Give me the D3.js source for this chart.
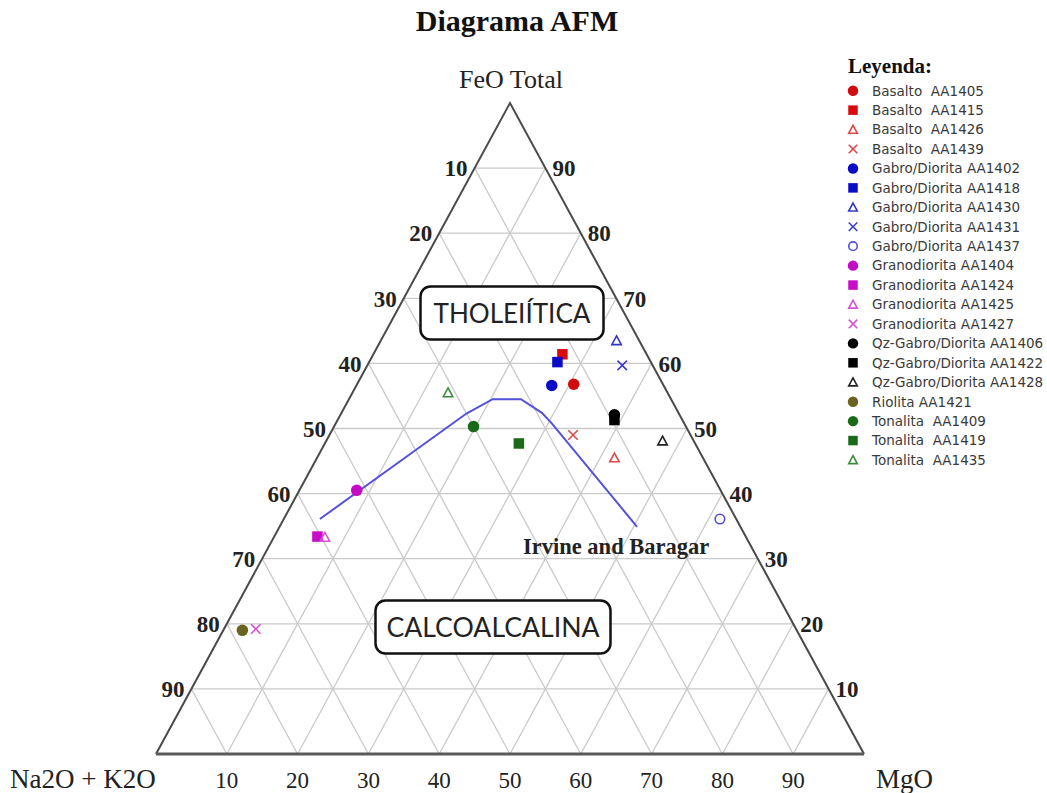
<!DOCTYPE html>
<html>
<head>
<meta charset="utf-8">
<script src="https://cdn.jsdelivr.net/npm/d3@7"></script>
<style>
  html, body { margin: 0; padding: 0; background: #fff; }
  svg { display: block; }
  text { white-space: pre; }
</style>
</head>
<body>
<svg id="chart" width="1047" height="793"></svg>
<script>
// AFM diagram: A = Na2O + K2O, F = FeO total, M = MgO (wt % normalised to 100)
const rockTypes = [
  "Basalto", "Basalto", "Basalto", "Basalto",
  "Gabro/Diorita", "Gabro/Diorita", "Gabro/Diorita", "Gabro/Diorita", "Gabro/Diorita",
  "Granodiorita", "Granodiorita", "Granodiorita", "Granodiorita",
  "Qz-Gabro/Diorita", "Qz-Gabro/Diorita", "Qz-Gabro/Diorita",
  "Riolita",
  "Tonalita", "Tonalita", "Tonalita"
];
const sampleIds = [
  "AA1405", "AA1415", "AA1426", "AA1439",
  "AA1402", "AA1418", "AA1430", "AA1431", "AA1437",
  "AA1404", "AA1424", "AA1425", "AA1427",
  "AA1406", "AA1422", "AA1428",
  "AA1421",
  "AA1409", "AA1419", "AA1435"
];
const labelGaps = [
  "  ", "  ", "  ", "  ",
  " ", " ", " ", " ", " ",
  " ", " ", " ", " ",
  " ", " ", " ",
  " ",
  "  ", "  ", "  "
];
const alkalis  = [12.6, 11.9, 12.5, 16.6, 15.8, 13.2, 3.2, 4.3, 2.3, 51.4, 60.5, 59.5, 76.3, 9.2, 9.6, 4.4, 78.3, 30.0, 24.9, 31.0];
const feoTotal = [56.8, 61.4, 45.5, 49.0, 56.6, 60.2, 63.5, 59.7, 36.1, 40.5, 33.4, 33.3, 19.2, 52.1, 51.3, 48.1, 19.0, 50.3, 47.7, 55.5];
const mgo      = [30.6, 26.7, 42.0, 34.4, 27.6, 26.6, 33.3, 36.0, 61.6, 8.1, 6.1, 7.2, 4.5, 38.7, 39.1, 47.5, 2.7, 19.7, 27.4, 13.5];
const shapes = [
  "circle", "square", "triangle", "cross",
  "circle", "square", "triangle", "cross", "ring",
  "circle", "square", "triangle", "cross",
  "circle", "square", "triangle",
  "circle",
  "circle", "square", "triangle"
];
const colors = [
  "#d00c0c", "#d80c0c", "#e04848", "#e04848",
  "#0c0cc8", "#0c0cc8", "#3434c8", "#3c3cd0", "#5050dc",
  "#c40cc4", "#c80cc8", "#d850d8", "#d850d8",
  "#000000", "#000000", "#222222",
  "#6a6420",
  "#1a6a1a", "#1a6a1a", "#3a8c3a"
];

// Irvine & Baragar (1971) tholeiitic / calc-alkaline boundary
const boundaryA = [58.8, 30.0, 25.2, 21.2, 19.3, 18.7, 14.6];
const boundaryF = [36.1, 52.3, 54.5, 54.5, 52.4, 50.8, 34.9];
const boundaryM = [5.1, 17.7, 20.3, 24.3, 28.3, 30.5, 50.5];

const tickValues = [10, 20, 30, 40, 50, 60, 70, 80, 90];

const svg = d3.select("#chart");
const serif = "'Liberation Serif', 'Times New Roman', serif";

// Scales: horizontal position runs with (M + F/2), vertical with F
const xScale = d3.scaleLinear().domain([0, 100]).range([156, 864]);
const yScale = d3.scaleLinear().domain([0, 100]).range([754, 103]);

function project(a, f, m) {
  const s = a + f + m;
  const F = f / s * 100, M = m / s * 100;
  return [xScale(M + F / 2), yScale(F)];
}

// Grid
const grid = svg.append("g").attr("stroke", "#cacaca").attr("stroke-width", 1.3).attr("fill", "none");
tickValues.forEach(v => {
  // constant F
  let p1 = project(100 - v, v, 0), p2 = project(0, v, 100 - v);
  grid.append("line").attr("x1", p1[0]).attr("y1", p1[1]).attr("x2", p2[0]).attr("y2", p2[1]);
  // constant M
  p1 = project(100 - v, 0, v); p2 = project(0, 100 - v, v);
  grid.append("line").attr("x1", p1[0]).attr("y1", p1[1]).attr("x2", p2[0]).attr("y2", p2[1]);
  // constant A
  p1 = project(v, 0, 100 - v); p2 = project(v, 100 - v, 0);
  grid.append("line").attr("x1", p1[0]).attr("y1", p1[1]).attr("x2", p2[0]).attr("y2", p2[1]);
});

// Triangle frame
const vA = project(100, 0, 0), vF = project(0, 100, 0), vM = project(0, 0, 100);
svg.append("path")
  .attr("d", `M${vA[0]},${vA[1]}L${vF[0]},${vF[1]}L${vM[0]},${vM[1]}`)
  .attr("fill", "none").attr("stroke", "#4a4a4a").attr("stroke-width", 2);
svg.append("line")
  .attr("x1", vA[0]).attr("y1", vA[1]).attr("x2", vM[0]).attr("y2", vM[1])
  .attr("stroke", "#5a5a5a").attr("stroke-width", 3);

// Tick labels
const ticks = svg.append("g").attr("font-family", serif).attr("font-weight", "bold")
  .attr("font-size", 23).attr("fill", "#222");
tickValues.forEach(v => {
  // left edge: alkalis
  let p = project(v, 100 - v, 0);
  ticks.append("text").attr("x", p[0] - 7).attr("y", p[1]).attr("dy", "0.36em")
    .attr("text-anchor", "end").text(v);
  // right edge: FeO
  p = project(0, v, 100 - v);
  ticks.append("text").attr("x", p[0] + 7).attr("y", p[1]).attr("dy", "0.36em")
    .attr("text-anchor", "start").text(v);
  // base: MgO
  p = project(100 - v, 0, v);
  ticks.append("text").attr("x", p[0]).attr("y", p[1] + 34)
    .attr("text-anchor", "middle").attr("font-weight", "normal").attr("font-size", 23).text(v);
});

// Titles
svg.append("text").attr("x", 517).attr("y", 31).attr("text-anchor", "middle")
  .attr("font-family", serif).attr("font-weight", "bold").attr("font-size", 30)
  .attr("fill", "#111").text("Diagrama AFM");
svg.append("text").attr("x", 511).attr("y", 88).attr("text-anchor", "middle")
  .attr("font-family", serif).attr("font-size", 26).attr("fill", "#222").text("FeO Total");
svg.append("text").attr("x", 10).attr("y", 788)
  .attr("font-family", serif).attr("font-size", 27).attr("fill", "#222").text("Na2O + K2O");
svg.append("text").attr("x", 876).attr("y", 788)
  .attr("font-family", serif).attr("font-size", 27).attr("fill", "#222").text("MgO");

// Boundary line
const line = d3.line();
svg.append("path")
  .attr("d", line(boundaryA.map((a, i) => project(a, boundaryF[i], boundaryM[i]))))
  .attr("fill", "none").attr("stroke", "#5252dc").attr("stroke-width", 2);
svg.append("text").attr("x", 523).attr("y", 554)
  .attr("font-family", serif).attr("font-weight", "bold").attr("font-size", 22.5)
  .attr("fill", "#222").text("Irvine and Baragar");

// Field labels
function fieldBox(x, y, w, h, label, len) {
  svg.append("rect").attr("x", x).attr("y", y).attr("width", w).attr("height", h)
    .attr("rx", 10).attr("fill", "#fff").attr("stroke", "#111").attr("stroke-width", 2.5);
  svg.append("text").attr("x", x + w / 2).attr("y", y + h / 2).attr("dy", "0.36em")
    .attr("text-anchor", "middle").attr("font-family", "Lato, 'Open Sans', sans-serif")
    .attr("font-size", 27).attr("fill", "#222")
    .attr("textLength", len).attr("lengthAdjust", "spacingAndGlyphs").text(label);
}
fieldBox(420.5, 286.5, 183, 53, "THOLEIÍTICA", 157);
fieldBox(375.5, 600.5, 235, 53, "CALCOALCALINA", 213);

// Marker drawing
function drawMarker(g, shape, color, x, y, s) {
  const lw = 1.6;
  if (shape === "circle") {
    g.append("circle").attr("cx", x).attr("cy", y).attr("r", s * 0.55).attr("fill", color);
  } else if (shape === "ring") {
    g.append("circle").attr("cx", x).attr("cy", y).attr("r", s * 0.45)
      .attr("fill", "none").attr("stroke", color).attr("stroke-width", lw);
  } else if (shape === "square") {
    g.append("rect").attr("x", x - s * 0.5).attr("y", y - s * 0.5)
      .attr("width", s).attr("height", s).attr("fill", color);
  } else if (shape === "triangle") {
    const h = s * 0.45;
    g.append("path")
      .attr("d", `M${x},${y - h}L${x + h},${y + h * 0.85}L${x - h},${y + h * 0.85}Z`)
      .attr("fill", "none").attr("stroke", color).attr("stroke-width", lw);
  } else if (shape === "cross") {
    const h = s * 0.45;
    g.append("path")
      .attr("d", `M${x - h},${y - h}L${x + h},${y + h}M${x - h},${y + h}L${x + h},${y - h}`)
      .attr("fill", "none").attr("stroke", color).attr("stroke-width", lw);
  }
}

const points = svg.append("g");
sampleIds.forEach((id, i) => {
  const p = project(alkalis[i], feoTotal[i], mgo[i]);
  drawMarker(points, shapes[i], colors[i], p[0], p[1], 10.5);
});

// Legend
const legend = svg.append("g");
legend.append("text").attr("x", 848).attr("y", 73)
  .attr("font-family", serif).attr("font-weight", "bold").attr("font-size", 21)
  .attr("fill", "#111").text("Leyenda:");
const rowY = d3.scaleLinear().domain([0, sampleIds.length - 1]).range([90.7, 460]);
sampleIds.forEach((id, i) => {
  const y = rowY(i);
  drawMarker(legend, shapes[i], colors[i], 853, y, 9.5);
  legend.append("text").attr("x", 872).attr("y", y).attr("dy", "0.36em")
    .attr("font-family", "'DejaVu Sans', Verdana, sans-serif").attr("font-size", 13.5)
    .attr("fill", "#3a3a3a").text(rockTypes[i] + labelGaps[i] + id);
});
</script>
</body>
</html>
